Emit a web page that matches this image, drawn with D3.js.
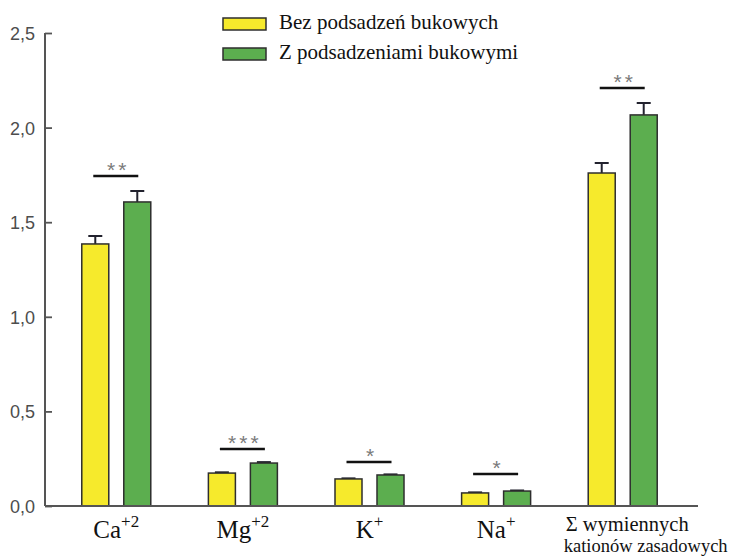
<!DOCTYPE html>
<html>
<head>
<meta charset="utf-8">
<script src="https://cdn.jsdelivr.net/npm/d3@7"></script>
<style>
    body { margin: 0; background: #fff; }
</style>
</head>
<body>
<div id="chart"></div>
<script>
// data
const categories = ["Ca", "Mg", "K", "Na", "Σ"];
const catBase = ["Ca", "Mg", "K", "Na"];
const catSup = ["+2", "+2", "+", "+"];
const sumLabel = ["Σ wymiennych", "kationów zasadowych"];
const seriesNames = ["Bez podsadzeń bukowych", "Z podsadzeniami bukowymi"];
const withoutBeech = [1.385, 0.174, 0.143, 0.069, 1.760];
const withBeech = [1.607, 0.227, 0.164, 0.079, 2.067];
const withoutErr = [0.042, 0.004, 0.003, 0.003, 0.053];
const withErr = [0.058, 0.005, 0.003, 0.003, 0.063];
const stars = ["**", "***", "*", "*", "**"];
const starLevel = [1.744, 0.301, 0.233, 0.169, 2.209];
const yTicks = [0, 0.5, 1.0, 1.5, 2.0, 2.5];

const colors = ["#f6ea2c", "#5cae4f"];
const serifFont = "Liberation Serif";
const sansFont = "Liberation Sans";

const margin = {top: 33, left: 45, right: 35, bottom: 50};
const width = 729 - margin.left - margin.right,
    height = 556 - margin.top - margin.bottom;

const svg = d3.select("#chart")
    .append("svg")
    .attr("width", 729)
    .attr("height", 556);

const gr = svg.append("g")
    .attr("transform", "translate(" + margin.left + "," + margin.top + ")");

const xScale = d3.scaleBand()
    .domain(categories)
    .range([0, width])
    .paddingInner(0)
    .paddingOuter(0.063);

// two bars inside each group
const x1 = d3.scaleBand()
    .domain([0, 1])
    .range([-34.5, 34.5])
    .paddingInner(0.357)
    .paddingOuter(0);

const yScale = d3.scaleLinear()
    .domain([0, 2.5])
    .range([height, 0]);

const rows = [];
categories.forEach((c, i) => {
    rows.push({cat: c, s: 0, v: withoutBeech[i], e: withoutErr[i]});
    rows.push({cat: c, s: 1, v: withBeech[i], e: withErr[i]});
});

const cx = d => xScale(d.cat) + xScale.bandwidth() / 2;

// error bars
const errG = gr.append("g");
rows.forEach(d => {
    const mx = cx(d) + x1(d.s) + x1.bandwidth() / 2;
    errG.append("line")
        .attr("x1", mx).attr("x2", mx)
        .attr("y1", yScale(d.v)).attr("y2", yScale(d.v + d.e))
        .attr("stroke", "#22222e").attr("stroke-width", 2);
    errG.append("line")
        .attr("x1", mx - 7).attr("x2", mx + 7)
        .attr("y1", yScale(d.v + d.e)).attr("y2", yScale(d.v + d.e))
        .attr("stroke", "#22222e").attr("stroke-width", 2);
});

gr.selectAll(".bar")
    .data(rows)
    .enter()
    .append("rect")
    .attr("class", "bar")
    .attr("x", d => cx(d) + x1(d.s))
    .attr("y", d => yScale(d.v))
    .attr("width", x1.bandwidth())
    .attr("height", d => height - yScale(d.v))
    .attr("fill", d => colors[d.s])
    .attr("stroke", "#2e2e2e")
    .attr("stroke-width", 1.5);

// significance lines + stars
categories.forEach((c, i) => {
    const m = xScale(c) + xScale.bandwidth() / 2;
    gr.append("line")
        .attr("x1", m - 23).attr("x2", m + 22)
        .attr("y1", yScale(starLevel[i])).attr("y2", yScale(starLevel[i]))
        .attr("stroke", "#111").attr("stroke-width", 2.5);
    gr.append("text")
        .attr("x", m + 2)
        .attr("y", yScale(starLevel[i]) + 1)
        .attr("text-anchor", "middle")
        .attr("font-family", sansFont)
        .attr("font-size", 21)
        .attr("letter-spacing", 3)
        .attr("fill", "#7a7a7a")
        .text(stars[i]);
});

// axes
const yAxis = d3.axisLeft(yScale)
    .tickValues(yTicks)
    .tickSize(0)
    .tickFormat(d => d3.format(".1f")(d).replace(".", ","));

const yAxGr = gr.append("g").call(yAxis)
    .attr("font-family", sansFont)
    .attr("font-size", 18);
yAxGr.select(".domain").remove();
yAxGr.selectAll("text")
    .attr("x", -10)
    .attr("dy", "0.36em")
    .attr("fill", "#4d4d4d");
yAxGr.selectAll(".tick")
    .append("line")
    .attr("x1", 0).attr("x2", 7)
    .attr("stroke", "#555").attr("stroke-width", 1.8);

gr.append("line")
    .attr("x1", 0).attr("x2", 0)
    .attr("y1", 0).attr("y2", height)
    .attr("stroke", "#555").attr("stroke-width", 2);

gr.append("line")
    .attr("x1", 0).attr("x2", width + 4)
    .attr("y1", height).attr("y2", height)
    .attr("stroke", "#555").attr("stroke-width", 2);

// category labels
catBase.forEach((b, i) => {
    const m = xScale(categories[i]) + xScale.bandwidth() / 2;
    const t = gr.append("text")
        .attr("x", m)
        .attr("y", height + 32)
        .attr("text-anchor", "middle")
        .attr("font-family", serifFont)
        .attr("font-size", 25)
        .attr("fill", "#111");
    t.append("tspan").text(b);
    t.append("tspan")
        .attr("dy", -11)
        .attr("font-size", 17)
        .text(catSup[i]);
});

const sumX = xScale(categories[4]) + xScale.bandwidth() / 2 - 57;
sumLabel.forEach((s, i) => {
    gr.append("text")
        .attr("x", sumX - i * 2)
        .attr("y", height + 25 + i * 21)
        .attr("font-family", serifFont)
        .attr("font-size", i === 0 ? 20.5 : 18.5)
        .attr("fill", "#111")
        .text(s);
});

// legend
const legend = svg.append("g")
    .attr("transform", "translate(223,18)");

seriesNames.forEach((n, i) => {
    legend.append("rect")
        .attr("x", 0)
        .attr("y", i * 30)
        .attr("width", 43)
        .attr("height", 12)
        .attr("fill", colors[i])
        .attr("stroke", "#2e2e2e")
        .attr("stroke-width", 1.5);
    legend.append("text")
        .attr("x", 56)
        .attr("y", i * 30 + 11)
        .attr("font-family", serifFont)
        .attr("font-size", 21)
        .attr("fill", "#111")
        .text(n);
});
</script>
</body>
</html>
